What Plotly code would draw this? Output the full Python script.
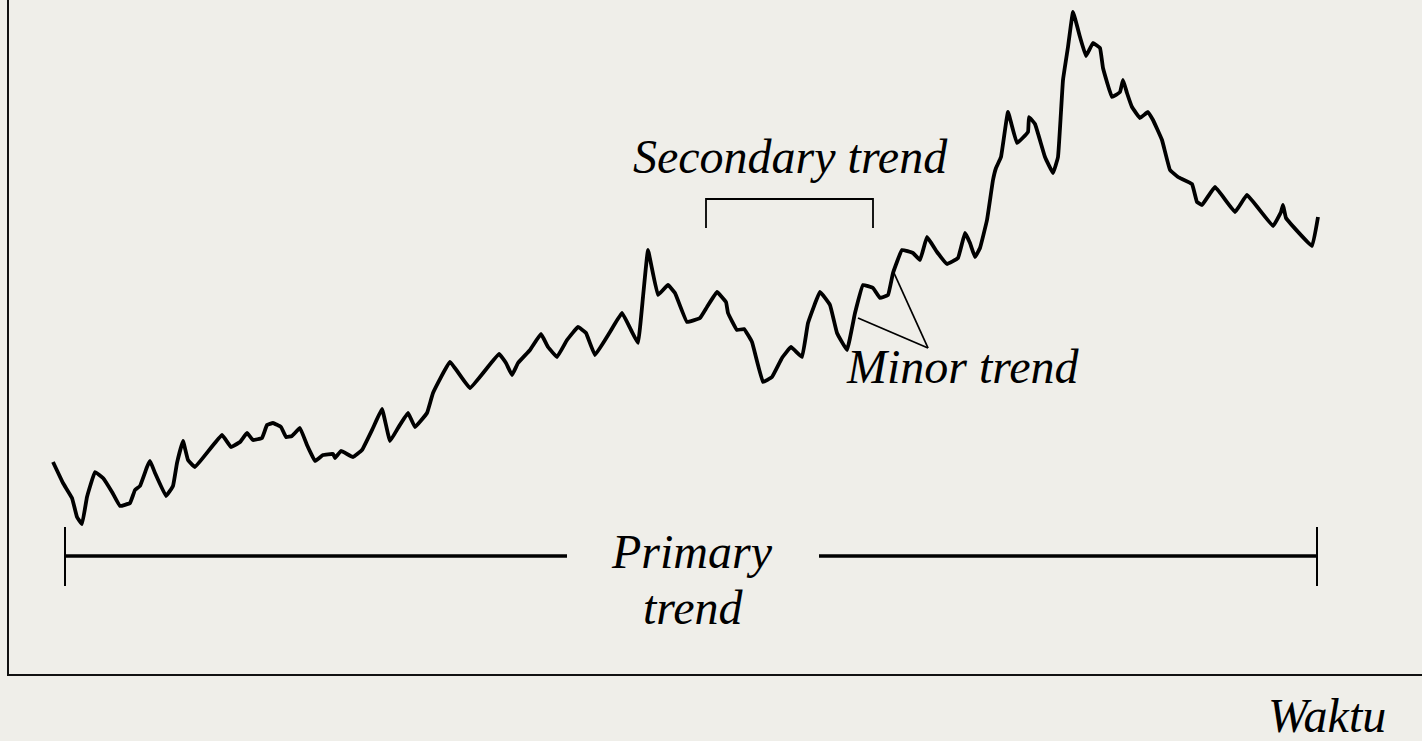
import plotly.graph_objects as go

# Time (days from start) and price
time = [44, 54, 63, 68, 73, 78, 86, 94, 103, 111, 121, 126, 131, 138, 141, 146, 157, 164, 168, 174,
        179, 186, 213, 222, 231, 238, 244, 253, 258, 264, 272, 277, 283, 291, 298, 306, 314, 324, 326, 332,
        344, 353, 364, 373, 381, 389, 399, 406, 418, 424, 441, 461, 490, 497, 503, 509, 521, 532, 539, 548,
        558, 569, 577, 586, 601, 613, 622, 629, 634, 639, 649, 659, 666, 678, 691, 698, 708, 717, 719, 728,
        735, 743, 754, 763, 773, 782, 793, 799, 811, 821, 828, 838, 846, 854, 864, 871, 879, 884, 893, 904,
        911, 918, 928, 938, 949, 956, 961, 966, 971, 978, 984, 987, 992, 999, 1008, 1019, 1020, 1026, 1036, 1044,
        1049, 1054, 1059, 1064, 1071, 1077, 1084, 1091, 1094, 1103, 1111, 1114, 1118, 1123, 1131, 1139, 1144, 1153, 1161, 1169,
        1183, 1188, 1193, 1206, 1226, 1238, 1264, 1272, 1274, 1277, 1303, 1309]
price = [212, 191, 176, 157, 150, 177, 202, 196, 182, 168, 171, 184, 188, 207, 213, 201, 178, 188, 211, 233,
         214, 207, 239, 227, 232, 241, 234, 236, 249, 251, 247, 237, 238, 246, 229, 213, 219, 220, 216, 223,
         217, 224, 246, 265, 233, 246, 261, 247, 261, 281, 312, 286, 320, 311, 299, 311, 324, 340, 327, 317,
         334, 347, 341, 319, 342, 361, 344, 331, 377, 424, 379, 389, 381, 352, 356, 367, 382, 372, 361, 344,
         345, 332, 292, 297, 316, 327, 317, 351, 382, 369, 341, 324, 361, 389, 386, 376, 379, 401, 424, 421,
         414, 437, 422, 410, 416, 441, 431, 417, 426, 454, 494, 506, 517, 562, 531, 542, 557, 550, 517, 501,
         517, 594, 627, 662, 637, 618, 631, 626, 606, 577, 582, 594, 581, 567, 556, 562, 554, 534, 504, 497,
         490, 472, 469, 487, 462, 479, 448, 462, 469, 456, 428, 457]

# Annotation labels
label_secondary = "Secondary trend"
label_minor = "Minor trend"
label_primary = ["Primary", "trend"]
label_time = "Waktu"

INK = "#000000"
BG = "#efeee9"
FONT = dict(family="Liberation Serif", size=48, color=INK, style="italic")

fig = go.Figure()
fig.add_trace(go.Scatter(x=time, y=price, mode="lines",
                         line=dict(color=INK, width=3.8, shape="spline", smoothing=0.25),
                         hoverinfo="skip", showlegend=False))

shapes = []
# Secondary trend bracket
shapes.append(dict(type="path", xref="x", yref="y",
                   path="M 697 446 L 697 475 L 864 475 L 864 446",
                   line=dict(color=INK, width=1.8)))
# Minor trend pointers
shapes.append(dict(type="line", xref="x", yref="y", x0=849, y0=356, x1=919, y1=326,
                   line=dict(color=INK, width=1.8)))
shapes.append(dict(type="line", xref="x", yref="y", x0=885, y0=401, x1=919, y1=326,
                   line=dict(color=INK, width=1.8)))
# Primary trend span
shapes.append(dict(type="line", xref="x", yref="y", x0=56, y0=118, x1=558, y1=118,
                   line=dict(color=INK, width=3.4)))
shapes.append(dict(type="line", xref="x", yref="y", x0=810, y0=118, x1=1308, y1=118,
                   line=dict(color=INK, width=3.4)))
shapes.append(dict(type="line", xref="x", yref="y", x0=56, y0=88, x1=56, y1=147,
                   line=dict(color=INK, width=2)))
shapes.append(dict(type="line", xref="x", yref="y", x0=1308, y0=88, x1=1308, y1=147,
                   line=dict(color=INK, width=2)))

annotations = [
    dict(text=label_secondary, x=781, y=518, xref="x", yref="y", showarrow=False,
         xanchor="center", yanchor="middle", font=FONT),
    dict(text=label_minor, x=953.5, y=308, xref="x", yref="y", showarrow=False,
         xanchor="center", yanchor="middle", font=FONT),
    dict(text=label_primary[0], x=683, y=123, xref="x", yref="y", showarrow=False,
         xanchor="center", yanchor="middle", font=FONT),
    dict(text=label_primary[1], x=684, y=67, xref="x", yref="y", showarrow=False,
         xanchor="center", yanchor="middle", font=FONT),
    dict(text=label_time, x=1318, y=-41 / 674, xref="x", yref="paper", showarrow=False,
         xanchor="center", yanchor="middle", font=FONT),
]

fig.update_layout(
    width=1422, height=741,
    margin=dict(l=9, r=0, t=0, b=67, pad=0),
    paper_bgcolor=BG, plot_bgcolor=BG,
    shapes=shapes, annotations=annotations,
    xaxis=dict(range=[0, 1413], showgrid=False, zeroline=False, showticklabels=False,
               ticks="", showline=True, linecolor="#111111", linewidth=2, fixedrange=True),
    yaxis=dict(range=[0, 674], showgrid=False, zeroline=False, showticklabels=False,
               ticks="", showline=True, linecolor="#111111", linewidth=2, fixedrange=True),
    showlegend=False,
)

fig.write_html("out.html", config={"displayModeBar": False},
               post_script="document.body.style.margin='0';document.body.style.background='%s';" % BG)
